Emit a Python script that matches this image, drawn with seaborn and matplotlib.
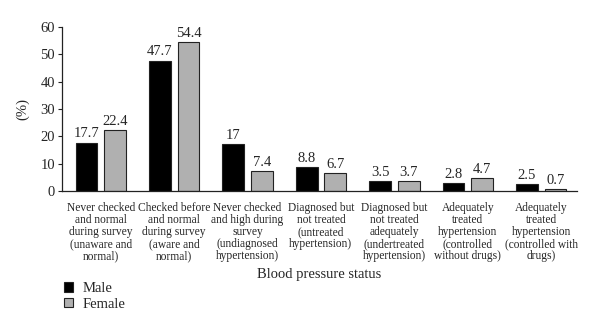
import matplotlib
matplotlib.use("Agg")
import matplotlib.pyplot as plt
import seaborn as sns
import pandas as pd
from matplotlib.patches import Patch

categories = [
    "Never checked\nand normal\nduring survey\n(unaware and\nnormal)",
    "Checked before\nand normal\nduring survey\n(aware and\nnormal)",
    "Never checked\nand high during\nsurvey\n(undiagnosed\nhypertension)",
    "Diagnosed but\nnot treated\n(untreated\nhypertension)",
    "Diagnosed but\nnot treated\nadequately\n(undertreated\nhypertension)",
    "Adequately\ntreated\nhypertension\n(controlled\nwithout drugs)",
    "Adequately\ntreated\nhypertension\n(controlled with\ndrugs)",
]
male = [17.7, 47.7, 17, 8.8, 3.5, 2.8, 2.5]
female = [22.4, 54.4, 7.4, 6.7, 3.7, 4.7, 0.7]
male_labels = ["17.7", "47.7", "17", "8.8", "3.5", "2.8", "2.5"]
female_labels = ["22.4", "54.4", "7.4", "6.7", "3.7", "4.7", "0.7"]
series = ["Male", "Female"]
y_ticks = [0, 10, 20, 30, 40, 50, 60]

df = pd.DataFrame({
    "cat": categories * 2,
    "val": male + female,
    "sex": ["Male"] * len(categories) + ["Female"] * len(categories),
})

sns.set_theme(style="white")
plt.rcParams["font.family"] = ["Liberation Serif", "DejaVu Serif"]

fig = plt.figure(figsize=(6, 3.32), dpi=100)
ax = fig.add_axes([0.103, 0.425, 0.859, 0.494])

colors = {"Male": "#000000", "Female": "#b0b0b0"}
sns.barplot(data=df, x="cat", y="val", hue="sex", hue_order=series,
            palette=colors, width=0.78, gap=0.24, edgecolor="#222222",
            linewidth=0.8, ax=ax, legend=False)

for cont, labs in zip(ax.containers, [male_labels, female_labels]):
    ax.bar_label(cont, labels=labs, padding=1.5, fontsize=10.5)

ax.set_ylim(0, 60)
ax.set_yticks(y_ticks)
ax.set_xlim(-0.53, 6.49)
ax.set_ylabel("(%)", fontsize=10.5, labelpad=8)
ax.set_xlabel("Blood pressure status", fontsize=10.5, labelpad=4)
ax.tick_params(axis="y", which="both", left=True, length=3, width=0.8,
               labelsize=10.5, pad=2, color="#222222")
ax.tick_params(axis="x", bottom=False, labelsize=8.3, pad=2)
for lbl in ax.get_xticklabels():
    lbl.set_linespacing(1.0)
for s in ["top", "right"]:
    ax.spines[s].set_visible(False)
for s in ["left", "bottom"]:
    ax.spines[s].set_color("#222222")
    ax.spines[s].set_linewidth(0.9)

handles = [Patch(facecolor=colors[s], edgecolor="#222222", linewidth=0.8) for s in series]
fig.legend(handles, series, loc="upper left", bbox_to_anchor=(0.097, 0.168),
           frameon=False, fontsize=10.5, handlelength=0.6, handleheight=0.6,
           handletextpad=0.7, labelspacing=0.2, borderaxespad=0)

fig.savefig("out.png", dpi=100)
